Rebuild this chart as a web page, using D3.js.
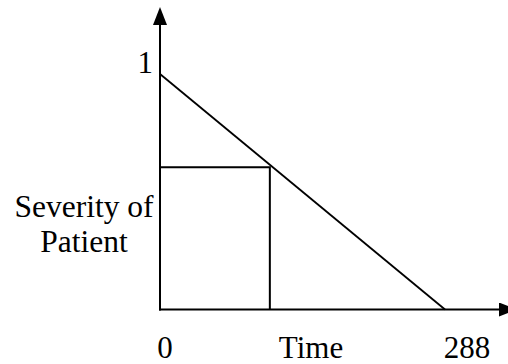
<!DOCTYPE html>
<html>
<head>
<meta charset="utf-8">
<script src="https://cdn.jsdelivr.net/npm/d3@7"></script>
<style>
  body { margin: 0; background: #fff; }
  svg { display: block; }
  text { font-family: "Liberation Serif", "Times New Roman", serif; fill: #000; }
</style>
</head>
<body>
<script>
// data
const timeDomain = [0, 288];
const severityDomain = [0, 1];
const lineTime = [0, 288];
const lineSeverity = [1, 0];
const markTime = 111;
const markSeverity = 0.604;
const xTickLabels = ["0", "Time", "288"];
const yLabel = ["Severity of", "Patient"];

const width = 508, height = 364;

const svg = d3.select("body")
  .append("svg")
  .attr("width", width)
  .attr("height", height);

const x = d3.scaleLinear().domain(timeDomain).range([160, 445]);
const y = d3.scaleLinear().domain(severityDomain).range([309.5, 74]);

// arrow heads
const defs = svg.append("defs");
defs.append("marker")
  .attr("id", "arrow")
  .attr("viewBox", "0 0 18 14")
  .attr("refX", 0)
  .attr("refY", 7)
  .attr("markerWidth", 18)
  .attr("markerHeight", 14)
  .attr("markerUnits", "userSpaceOnUse")
  .attr("orient", "auto")
  .append("path")
  .attr("d", "M0,0 L18,7 L0,14 Z")
  .attr("fill", "#000");

// axes
svg.append("line")
  .attr("x1", x(0)).attr("y1", y(0) + 1)
  .attr("x2", x(0)).attr("y2", 25)
  .attr("stroke", "#000")
  .attr("stroke-width", 2)
  .attr("marker-end", "url(#arrow)");

svg.append("line")
  .attr("x1", x(0) - 1).attr("y1", y(0))
  .attr("x2", 499).attr("y2", y(0))
  .attr("stroke", "#000")
  .attr("stroke-width", 2)
  .attr("marker-end", "url(#arrow)");

// decreasing severity line
const pts = lineTime.map((t, i) => [t, lineSeverity[i]]);
svg.append("path")
  .datum(pts)
  .attr("d", d3.line().x(d => x(d[0])).y(d => y(d[1])))
  .attr("fill", "none")
  .attr("stroke", "#000")
  .attr("stroke-width", 1.8);

// rectangle under the line
svg.append("polyline")
  .attr("points", [
    [x(0), y(markSeverity)],
    [x(markTime), y(markSeverity)],
    [x(markTime), y(0)]
  ].map(p => p.join(",")).join(" "))
  .attr("fill", "none")
  .attr("stroke", "#000")
  .attr("stroke-width", 2);

// labels
svg.append("text")
  .attr("x", 153)
  .attr("y", 73)
  .attr("text-anchor", "end")
  .style("font-size", "31px")
  .text("1");

const xLabelPos = [x(0) + 5, 311, x(288) + 22];
svg.selectAll(".xlab")
  .data(xTickLabels)
  .enter()
  .append("text")
  .attr("class", "xlab")
  .attr("x", (d, i) => xLabelPos[i])
  .attr("y", 358)
  .attr("text-anchor", "middle")
  .style("font-size", "31px")
  .text(d => d);

svg.selectAll(".ylab")
  .data(yLabel)
  .enter()
  .append("text")
  .attr("class", "ylab")
  .attr("x", 84)
  .attr("y", (d, i) => 217 + i * 35)
  .attr("text-anchor", "middle")
  .style("font-size", "31.5px")
  .text(d => d);
</script>
</body>
</html>
